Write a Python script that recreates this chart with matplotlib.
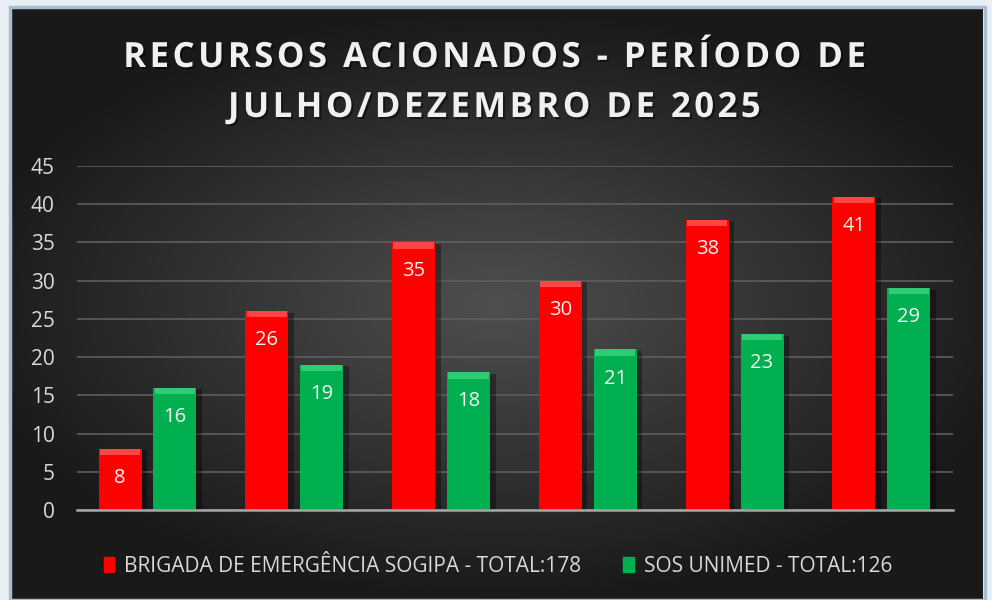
import numpy as np
import matplotlib
matplotlib.use("Agg")
import matplotlib.pyplot as plt
import matplotlib.patheffects as pe
from matplotlib.patches import Rectangle

# data
months = ["Jul", "Ago", "Set", "Out", "Nov", "Dez"]
brigada = [8, 26, 35, 30, 38, 41]
sos = [16, 19, 18, 21, 23, 29]
brigada_label = "BRIGADA DE EMERGÊNCIA SOGIPA - TOTAL:178"
sos_label = "SOS UNIMED - TOTAL:126"
title_lines = ["RECURSOS ACIONADOS - PERÍODO DE", "JULHO/DEZEMBRO DE 2025"]
yticks = [0, 5, 10, 15, 20, 25, 30, 35, 40, 45]

RED = "#ff0000"
RED_TOP = "#ff4444"
GREEN = "#00b050"
GREEN_TOP = "#30cc74"
TXT = "#d9d9d9"

plt.rcParams["font.family"] = ["Open Sans", "DejaVu Sans"]

fig = plt.figure(figsize=(9.92, 6.0), dpi=100)
fig.patch.set_facecolor("#e9eef5")

# dark panel with radial gradient
W, H = 992, 600
px0, py0, px1, py1 = 12, 9, 983, 600
bg = fig.add_axes([px0 / W, 1 - py1 / H, (px1 - px0) / W, (py1 - py0) / H])
gx, gy = np.meshgrid(np.linspace(-1, 1, 400), np.linspace(-1, 1, 250))
r = np.sqrt((gx / 1.0) ** 2 + (gy / 0.9) ** 2)
shade = np.clip(0.31 - 0.19 * r, 0.1, 0.35)
bg.imshow(np.dstack([shade, shade, shade]), aspect="auto", extent=[0, 1, 0, 1])
bg.set_xlim(0, 1)
bg.set_ylim(0, 1)
bg.axis("off")
fig.patches.append(Rectangle((px0 / W - 0.002, 1 - py1 / H), (px1 - px0) / W + 0.004,
                             (py1 - py0) / H + 0.004, transform=fig.transFigure,
                             fill=False, edgecolor="#a8bbd5", linewidth=2.5, zorder=0))

# chart axes
ax = fig.add_axes([77 / W, 90 / H, 876 / W, 344 / H])
ax.set_facecolor("none")
x = np.arange(len(months))
bw = 0.293
off = 0.187

rb = ax.bar(x - off, brigada, bw, color=RED, zorder=3)
gb = ax.bar(x + off, sos, bw, color=GREEN, zorder=3)
for b in list(rb) + list(gb):
    b.set_path_effects([pe.SimplePatchShadow(offset=(4, -1), shadow_rgbFace="black", alpha=0.35), pe.Normal()])

# bevel highlight on the bar tops
bev = 0.8
ax.bar(x - off, [bev] * len(x), bw * 0.94, bottom=np.array(brigada) - bev, color=RED_TOP, zorder=4)
ax.bar(x + off, [bev] * len(x), bw * 0.94, bottom=np.array(sos) - bev, color=GREEN_TOP, zorder=4)

for xi, v in zip(x - off, brigada):
    ax.text(xi, v - 3.8, str(v), ha="center", va="center", color="#f2f2f2", fontsize=14.5, zorder=5)
for xi, v in zip(x + off, sos):
    ax.text(xi, v - 3.8, str(v), ha="center", va="center", color="#f2f2f2", fontsize=14.5, zorder=5)

ax.set_xlim(-0.48, 5.488)
ax.set_ylim(0, 45)
ax.set_yticks(yticks)
ax.set_xticks([])
ax.tick_params(axis="y", length=0, pad=16, labelsize=15, labelcolor=TXT)
ax.grid(axis="y", color="#5e5e5e", linewidth=1.2, zorder=0)
for s in ["top", "right", "left"]:
    ax.spines[s].set_visible(False)
ax.spines["bottom"].set_color("#a6a6a6")
ax.spines["bottom"].set_linewidth(1.8)
ax.spines["bottom"].set_zorder(6)

# title, letter-spaced with hair spaces
for line, yp in zip(title_lines, [58, 108]):
    spaced = "\u200a".join(line)
    fig.text(0.499, 1 - yp / H, spaced, ha="center", va="center", color="#f0f0f0",
             fontsize=25, fontweight="bold",
             path_effects=[pe.withSimplePatchShadow(offset=(1.5, -1.5), shadow_rgbFace="black", alpha=0.45)])

# legend
h1 = Rectangle((0, 0), 1, 1, color=RED)
h2 = Rectangle((0, 0), 1, 1, color=GREEN)
leg = fig.legend([h1, h2], [brigada_label, sos_label], loc="center", ncol=2,
                 bbox_to_anchor=(0.502, 1 - 566 / H), frameon=False, fontsize=15,
                 handlelength=0.5, handleheight=0.7, handletextpad=0.5, columnspacing=2.0)
for t in leg.get_texts():
    t.set_color(TXT)

fig.savefig("out.png", dpi=100, facecolor=fig.get_facecolor())
